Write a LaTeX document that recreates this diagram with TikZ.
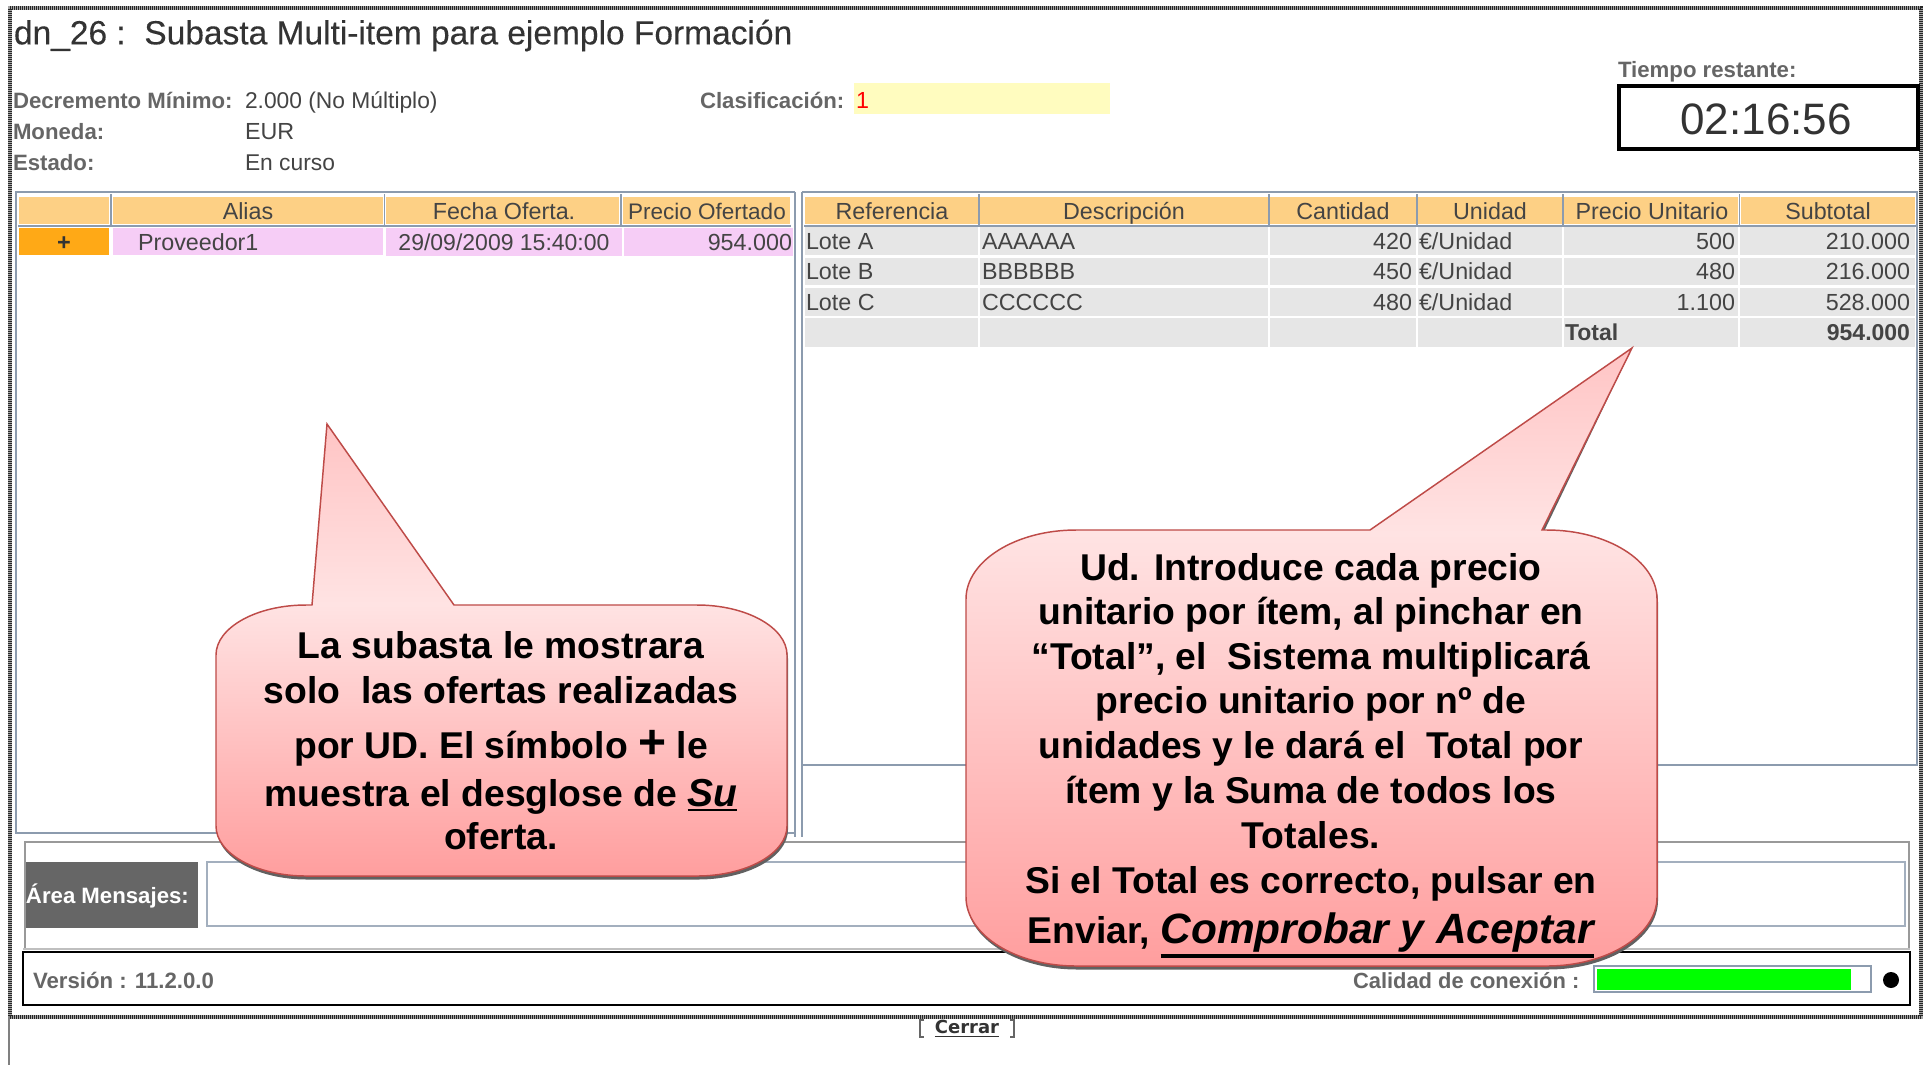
\documentclass[tikz,border=0pt]{standalone}
\usepackage{fontspec}
\setmainfont{Liberation Sans}
\newfontfamily\cerrarfont{DejaVu Sans}
\newfontfamily\heavyfont[FakeBold=0.25]{Liberation Sans}
\usetikzlibrary{calc}
\definecolor{hdr}{HTML}{FDD085}
\definecolor{pinkrow}{HTML}{F6CDF6}
\definecolor{orangecell}{HTML}{FFA916}
\definecolor{greyrow}{HTML}{E6E6E6}
\definecolor{panelline}{HTML}{8C9BAE}
\definecolor{lbl}{HTML}{666666}
\definecolor{val}{HTML}{444444}
\definecolor{calloutline}{HTML}{BE4B48}
\definecolor{cbot}{HTML}{FF9E9E}
\definecolor{cmid}{HTML}{FFE3E3}
\definecolor{ctop}{HTML}{FFC4C4}
\pgfdeclareverticalshading{bubbleL}{100bp}{color(0bp)=(cbot); color(25bp)=(cbot); color(55bp)=(cmid); color(75bp)=(ctop); color(100bp)=(ctop)}
\pgfdeclareverticalshading{bubbleR}{100bp}{color(0bp)=(cbot); color(25bp)=(cbot); color(60bp)=(cmid); color(75bp)=(ctop); color(100bp)=(ctop)}
\newcommand{\fsz}[1]{\fontsize{\fpeval{#1*0.75}pt}{\fpeval{#1*0.9}pt}\selectfont}
\newcommand{\ulthick}[2]{\leavevmode\vtop{\hbox{#2}\kern1.6pt\hrule height #1}}
% L,T,R,B,rx,ry,tip coordinate,base left x,base right x
\newcommand{\bubblepath}[9]{(#7) -- (#9,#2) -- ({#3-#5},#2)
  .. controls ({#3-0.45*#5},#2) and (#3,{#2+0.45*#6}) .. (#3,{#2+#6})
  -- (#3,{#4-#6})
  .. controls (#3,{#4-0.45*#6}) and ({#3-0.45*#5},#4) .. ({#3-#5},#4)
  -- ({#1+#5},#4)
  .. controls ({#1+0.45*#5},#4) and (#1,{#4-0.45*#6}) .. (#1,{#4-#6})
  -- (#1,{#2+#6})
  .. controls (#1,{#2+0.45*#6}) and ({#1+0.45*#5},#2) .. ({#1+#5},#2)
  -- (#8,#2) -- cycle}
\tikzset{
  x=0.75pt,y=-0.75pt,
  txt/.style={inner sep=0pt,outer sep=0pt,font=\fsz{23.3},text=val,text height=12.6pt,text depth=0pt},
  lab/.style={txt,anchor=west},
  rgt/.style={txt,anchor=east},
  mid/.style={txt,anchor=center},
  boldlab/.style={txt,anchor=west,font=\fsz{22.2}\bfseries,text=lbl},
  panel/.style={draw=panelline,line width=2pt},
  thinpanel/.style={draw=panelline!80,line width=1.6pt},
  dithergrey/.style={draw=black!35,line width=3pt},
  ditherdark/.style={draw=black!85,line width=3pt,dash pattern=on 0.75pt off 0.75pt},
  cltext/.style={inner sep=0pt,outer sep=0pt,font=\fsz{37.3}\bfseries,text=black,anchor=base},
  bubbleedge/.style={draw=calloutline,line width=1.1pt},
  shadowgrey/.style={fill=black!62,draw=none},
}
\begin{document}
\begin{tikzpicture}
\useasboundingbox (0,0) rectangle (1930,1065);
\fill[white] (0,0) rectangle (1930,1065);
% outer frame
\draw[dithergrey] (10,8) -- (1921,8) -- (1921,1017) -- (10,1017) -- cycle;
\draw[ditherdark] (10,8) -- (1921,8) -- (1921,1017) -- (10,1017) -- cycle;
\draw[draw=black!50,line width=1.5pt] (9,1017) -- (9,1065);
% title
\node[lab,font=\heavyfont\fsz{33.5},text=black!80,text height=17pt] (title) at (14,33) {dn\_26 :\ \ Subasta Multi-item para ejemplo Formación};
% info
\node[boldlab] (dec) at (13,100) {Decremento Mínimo:};
\node[lab,font=\fsz{22.8}] (decv) at (245,100) {2.000 (No Múltiplo)};
\node[boldlab] (mon) at (13,131) {Moneda:};
\node[lab] (monv) at (245,131) {EUR};
\node[boldlab] (est) at (13,162) {Estado:};
\node[lab,font=\fsz{22.8}] (estv) at (245,162) {En curso};
\node[boldlab] (cla) at (700,100) {Clasificación:};
\fill[yellow!25] (854,83) rectangle (1110,114);
\node[lab,text=red] (clav) at (856,100) {1};
% timer
\node[boldlab] (tie) at (1618,69) {Tiempo restante:};
\draw[black,line width=3pt] (1619,86) rectangle (1918,149);
\node[mid,font=\fsz{44},text=black!80,text height=23.5pt] (tim) at (1766,119) {02:16:56};
% left panel
\draw[panel] (15,192) -- (795,192);
\draw[panel] (16,192) -- (16,833) -- (795,833);
\draw[panel] (795,192) -- (795,837);
% right panel
\draw[panel] (802,192) -- (1917,192) -- (1917,765) -- (802,765);
\draw[panel] (802,192) -- (802,837);
% left header
\foreach \a/\b in {19/109,113/383,386/619,623/790}{\fill[hdr] (\a,197) rectangle (\b,224);}
\draw[panelline,line width=1.4pt] (18,226) -- (791,226);
\foreach \a in {111,384.5,621}{\draw[panelline,line width=1.2pt] (\a,194) -- (\a,227);}
\node[mid] (h1) at (248,211) {Alias};
\node[mid] (h2) at (504,211) {Fecha Oferta.};
\node[mid,font=\fsz{22.5}] (h3) at (707,211) {Precio Ofertado};
% left row
\fill[orangecell] (19,228) rectangle (109,255);
\fill[pinkrow] (113,228) rectangle (383,255);
\fill[pinkrow] (386,228) rectangle (622,256);
\fill[pinkrow] (624,228) rectangle (793,256);
\node[mid,font=\fsz{23.5}\bfseries,text=black!80] (plus) at (64,242) {+};
\node[lab] (r1) at (138,242) {Proveedor1};
\node[mid,font=\fsz{23}] (r2) at (504,242) {29/09/2009 15:40:00};
\node[rgt] (r3) at (792,242) {954.000};
% right header
\foreach \a/\b in {805/978,980/1268,1270/1416,1418/1562,1564/1738,1741/1915}{\fill[hdr] (\a,197) rectangle (\b,224);}
\draw[panelline,line width=1.4pt] (804,226) -- (1916,226);
\foreach \a in {979,1269,1417,1563,1739.5}{\draw[panelline,line width=1.2pt] (\a,194) -- (\a,227);}
\node[mid] (h4) at (892,211) {Referencia};
\node[mid] (h5) at (1124,211) {Descripción};
\node[mid] (h6) at (1343,211) {Cantidad};
\node[mid] (h7) at (1490,211) {Unidad};
\node[mid] (h8) at (1652,211) {Precio Unitario};
\node[mid] (h9) at (1828,211) {Subtotal};
% right rows
\foreach \p/\q in {227/255,258/285,288/316,318/347}{
  \foreach \a/\b in {805/978,980/1268,1270/1416,1418/1562,1564/1738,1740/1915}{\fill[greyrow] (\a,\p) rectangle (\b,\q);}
}
\foreach \n/\yy/\ref/\des/\can/\pu/\sub in {a/241/Lote A/AAAAAA/420/500/210.000,b/271/Lote B/BBBBBB/450/480/216.000,c/302/Lote C/CCCCCC/480/1.100/528.000}{
  \node[lab] (ref\n) at (806,\yy) {\ref};
  \node[lab] (des\n) at (982,\yy) {\des};
  \node[rgt] (can\n) at (1412,\yy) {\can};
  \node[lab] (uni\n) at (1419,\yy) {€/Unidad};
  \node[rgt] (pu\n) at (1735,\yy) {\pu};
  \node[rgt] (sub\n) at (1910,\yy) {\sub};
}
\node[lab,font=\fsz{23}\bfseries] (tot) at (1565,332) {Total};
\node[rgt,font=\fsz{23}\bfseries] (totv) at (1910,332) {954.000};
% message area
\draw[draw=black!40,line width=1.2pt] (25,948) -- (25,842) -- (1909,842) -- (1909,948);
\fill[lbl] (26,862) rectangle (198,928);
\node[lab,font=\fsz{22.2}\bfseries,text=white] (are) at (26,895) {Área Mensajes:};
\draw[thinpanel] (207,926) -- (207,862) -- (1905,862) -- (1905,926) -- cycle;
% version box
\draw[black!25,line width=1.2pt] (23,949) -- (1910,949);
\draw[black,line width=1.6pt] (23,952) rectangle (1910,1005);
\node[boldlab] (ver) at (33,980) {Versión : 11.2.0.0};
\node[boldlab,font=\fsz{21.9}\bfseries] (cal) at (1353,980) {Calidad de conexión :};
\fill[white] (1594,966) rectangle (1871,992);
\fill[green] (1597,969) rectangle (1851,990);
\draw[panelline,line width=1.4pt] (1594,966) rectangle (1871,992);
\fill[black] (1891,980) circle [radius=8];
% cerrar
\node[mid,font=\cerrarfont\fsz{18}\bfseries,text=black!80,text height=10pt] (cer) at (967,1027) {\underline{Cerrar}};
\draw[black!60,line width=1pt] (924,1020) -- (920,1020) -- (920,1037) -- (924,1037);
\draw[black!60,line width=1pt] (1010,1020) -- (1014,1020) -- (1014,1037) -- (1010,1037);
% left callout
\coordinate (tipL) at (327,424);
\coordinate (tipR) at (1632,348);
\begin{scope}[shift={(1,3.5)}]
  \fill[shadowgrey] \bubblepath{216}{605}{787}{876}{90}{50}{tipL}{312}{454};
\end{scope}
\shade[shading=bubbleL] \bubblepath{216}{605}{787}{876}{90}{50}{tipL}{312}{454};
\draw[bubbleedge] \bubblepath{216}{605}{787}{876}{90}{50}{tipL}{312}{454};
\node[cltext] (L1) at (501,658) {La subasta le mostrara};
\node[cltext] (L2) at (501,703) {solo\ \ las ofertas realizadas};
\node[cltext] (L3) at (501,758) {por UD. El símbolo {\fsz{48}+} le};
\node[cltext] (L4) at (501,806) {muestra el desglose de \ulthick{2.2pt}{\fsz{39}\itshape Su}};
\node[cltext] (L5) at (501,849) {oferta.};
% right callout
\begin{scope}[shift={(1,3.5)}]
  \fill[shadowgrey] \bubblepath{966}{530}{1657}{966}{110}{69}{tipR}{1370}{1542};
\end{scope}
\shade[shading=bubbleR] \bubblepath{966}{530}{1657}{966}{110}{69}{tipR}{1370}{1542};
\draw[bubbleedge] \bubblepath{966}{530}{1657}{966}{110}{69}{tipR}{1370}{1542};
\node[cltext] (R1) at (1311,580) {Ud. Introduce cada precio};
\node[cltext] (R2) at (1311,624) {unitario por ítem, al pinchar en};
\node[cltext] (R3) at (1311,669) {“Total”, el\ \ Sistema multiplicará};
\node[cltext] (R4) at (1311,713) {precio unitario por nº de};
\node[cltext] (R5) at (1311,758) {unidades y le dará el\ \ Total por};
\node[cltext] (R6) at (1311,803) {ítem y la Suma de todos los};
\node[cltext] (R7) at (1311,848) {Totales.};
\node[cltext] (R8) at (1311,893) {Si el Total es correcto, pulsar en};
\node[cltext] (R9) at (1311,943) {Enviar, \ulthick{3pt}{\fsz{42.4}\bfseries\itshape Comprobar y Aceptar}};
\end{tikzpicture}
\end{document}
